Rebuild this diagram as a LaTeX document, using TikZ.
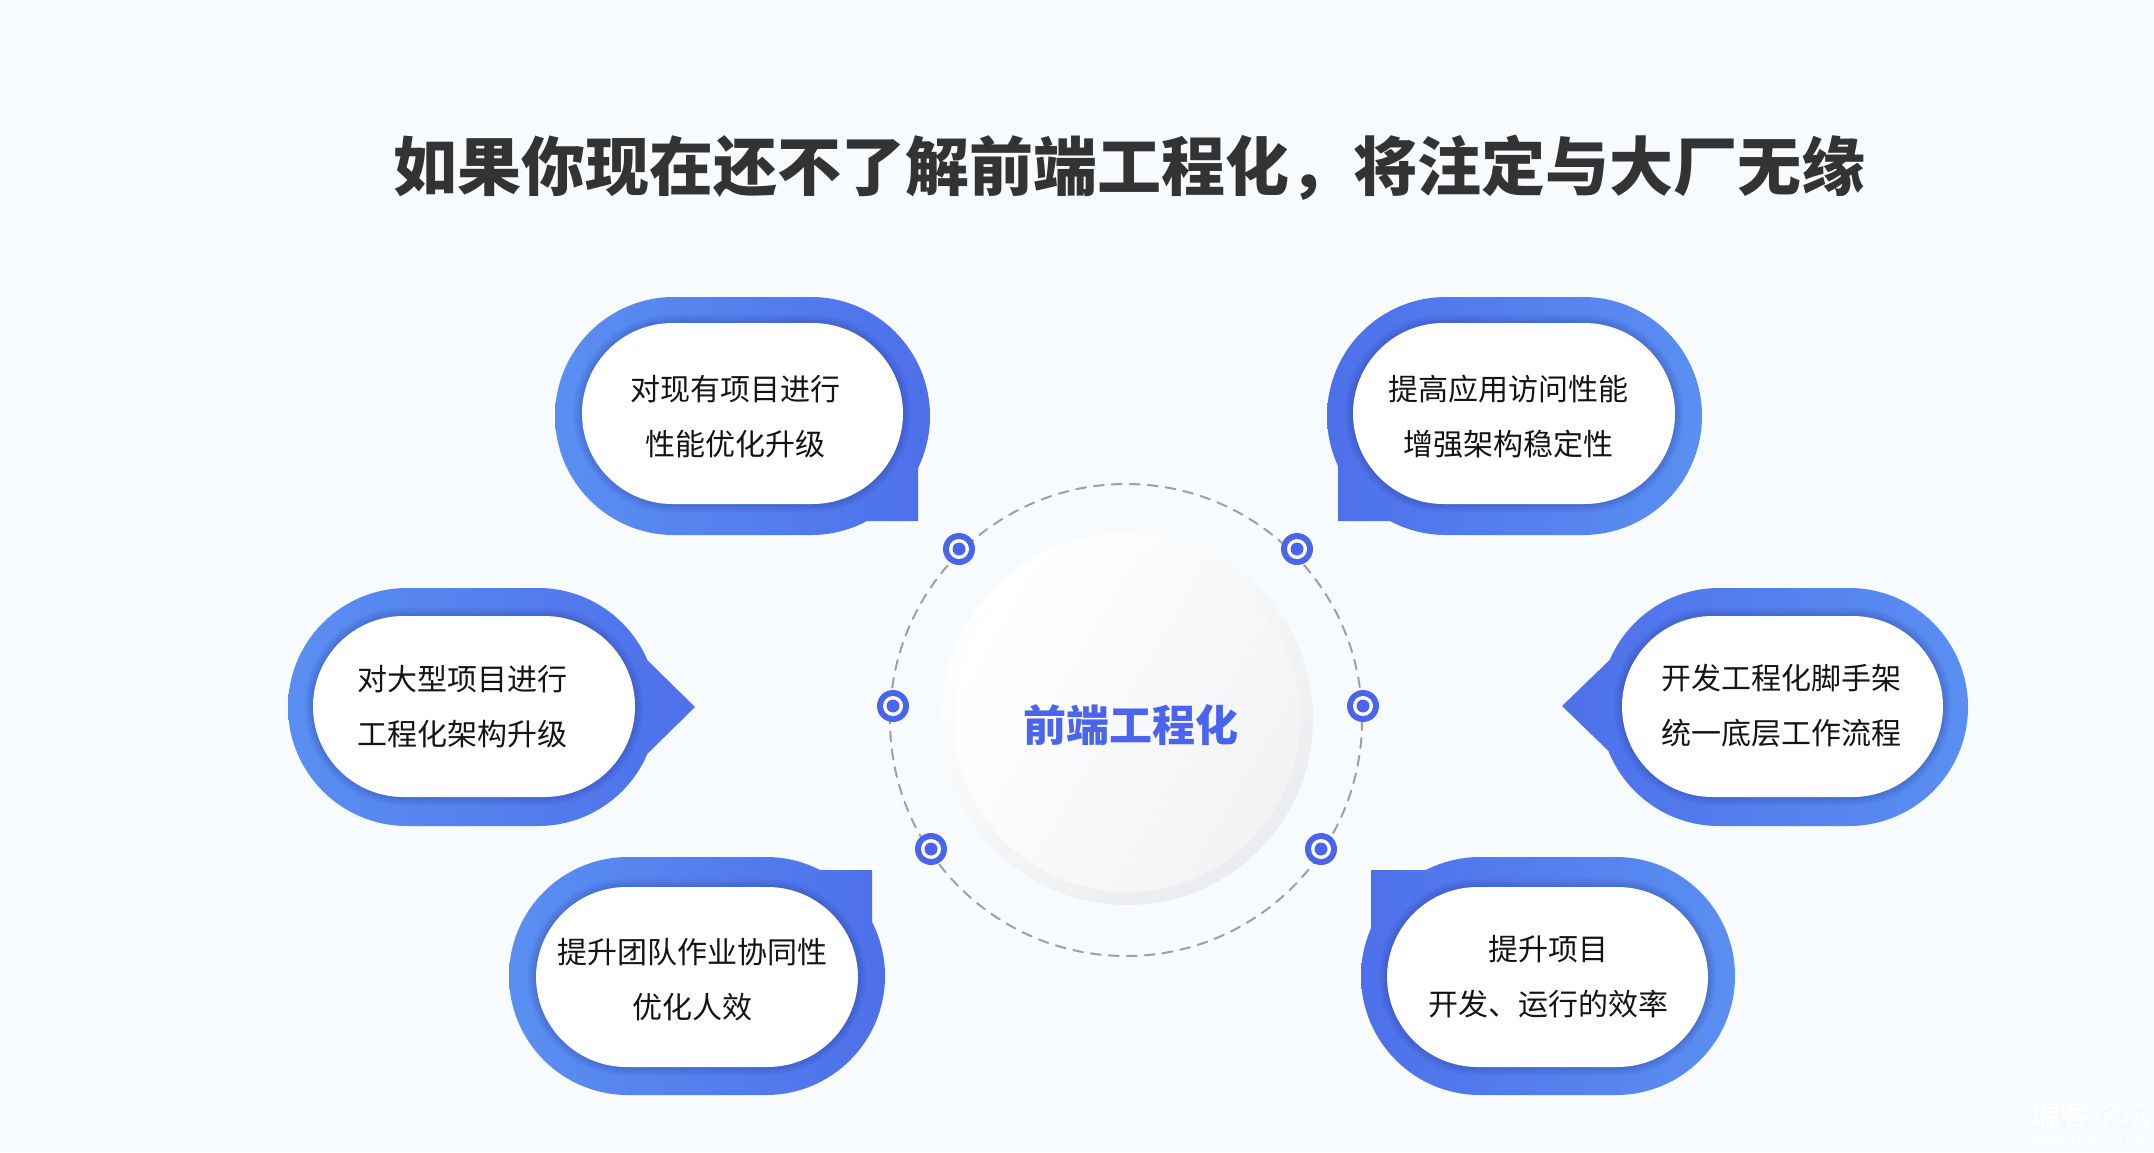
\documentclass[tikz,border=0pt]{standalone}
\usepackage{fontspec}
\setmainfont{Noto Sans CJK SC}
\usepackage{xcolor}
\usepackage{tikz}
\usetikzlibrary{positioning}

\definecolor{bgcol}{RGB}{247,251,254}
\definecolor{bluelight}{RGB}{90,143,242}
\definecolor{bluedark}{RGB}{78,112,234}
\definecolor{markblue}{RGB}{74,100,238}
\definecolor{titlegray}{RGB}{51,51,51}
\definecolor{dashgray}{RGB}{160,160,160}
\definecolor{ringgray}{RGB}{235,236,239}
\definecolor{diskgray}{RGB}{242,243,245}
\definecolor{shadowcol}{RGB}{30,45,130}

\begin{document}
\begin{tikzpicture}[x=1pt, y=-1pt, line cap=round, line join=round,
  outerL/.style={left color=bluelight, right color=bluedark},
  outerR/.style={left color=bluedark, right color=bluelight},
  stadium/.style={rounded corners=119pt},
  pill/.style={fill=white, rounded corners=90.5pt},
  pillshadow/.style={draw=shadowcol, opacity=0.07, rounded corners=90.5pt},
  bubbletext/.style={align=center, inner sep=0pt, text=black!92, font=\fontsize{30}{55}\selectfont}]

% Hintergrund
\useasboundingbox (0,0) rectangle (2154,1152);
\fill[bgcol] (0,0) rectangle (2154,1152);

% Titel
\node[text=titlegray, font=\fontsize{64}{70}\selectfont\bfseries] (titel) at (1129,168)
  {如果你现在还不了解前端工程化，将注定与大厂无缘};

% Mittelkreis
\draw[dashgray, line width=2pt, dash pattern=on 10pt off 8pt] (1126,720) circle (236);
\shade[top color=white, bottom color=ringgray, shading angle=40] (1127,719) circle (186);
\shade[top color=white, bottom color=diskgray, shading angle=60] (1127,719) circle (173);
\node[text=markblue, font=\fontsize{43}{50}\selectfont\bfseries, inner sep=0pt] (mitte) at (1131,725) {前端工程化};

% Blase oben links
\shade[outerL] (555,297) [stadium] rectangle (930,535) [sharp corners] (800,420) rectangle (918,521);
\foreach \w in {16,11,7,3}
  \draw[pillshadow, line width=\w pt] (582,323) rectangle (903,504);
\fill[pill] (582,323) rectangle (903,504);
\node[bubbletext] (perf) at (735,417) {对现有项目进行\\性能优化升级};

% Blase oben rechts
\shade[outerR] (1327,297) [stadium] rectangle (1702,535) [sharp corners] (1338,420) rectangle (1455,521);
\foreach \w in {16,11,7,3}
  \draw[pillshadow, line width=\w pt] (1353,323) rectangle (1675,504);
\fill[pill] (1353,323) rectangle (1675,504);
\node[bubbletext] (zugriff) at (1508,417) {提高应用访问性能\\增强架构稳定性};

% Blase Mitte links
\shade[outerL] (288,588) [stadium] rectangle (657,826) [sharp corners] (635,766) -- (695,707) -- (635,648) -- cycle;
\foreach \w in {16,11,7,3}
  \draw[pillshadow, line width=\w pt] (313,616) rectangle (635,797);
\fill[pill] (313,616) rectangle (635,797);
\node[bubbletext] (gross) at (462,707) {对大型项目进行\\工程化架构升级};

% Blase Mitte rechts
\shade[outerR] (1600,588) [stadium] rectangle (1968,826) [sharp corners] (1562,706) -- (1622,764) -- (1622,648) -- cycle;
\foreach \w in {16,11,7,3}
  \draw[pillshadow, line width=\w pt] (1622,616) rectangle (1943,797);
\fill[pill] (1622,616) rectangle (1943,797);
\node[bubbletext] (geruest) at (1781,706) {开发工程化脚手架\\统一底层工作流程};

% Blase unten links
\shade[outerL] (509,857) [stadium] rectangle (885,1095) [sharp corners] (760,870) rectangle (872,980);
\foreach \w in {16,11,7,3}
  \draw[pillshadow, line width=\w pt] (536,887) rectangle (858,1067);
\fill[pill] (536,887) rectangle (858,1067);
\node[bubbletext] (team) at (692,980) {提升团队作业协同性\\优化人效};

% Blase unten rechts
\shade[outerR] (1361,857) [stadium] rectangle (1735,1095) [sharp corners] (1371,870) rectangle (1486,980);
\foreach \w in {16,11,7,3}
  \draw[pillshadow, line width=\w pt] (1387,887) rectangle (1708,1067);
\fill[pill] (1387,887) rectangle (1708,1067);
\node[bubbletext] (effizienz) at (1548,977) {提升项目\\开发、运行的效率};

% Markierungen auf dem Kreis
\foreach \x/\y in {959/549, 1297/549, 893/706, 1363/706, 931/849, 1321/849} {
  \fill[markblue] (\x,\y) circle (16);
  \fill[white] (\x,\y) circle (10);
  \fill[markblue] (\x,\y) circle (6.5);
}

% Wasserzeichen
\node[text=white, font=\fontsize{30}{32}\selectfont, inner sep=0pt] (wz) at (2090,1115) {瑞客论坛};
\node[text=white, font=\fontsize{15}{16}\selectfont, inner sep=0pt, below=4pt of wz] (wzurl) {www.ruike1.com};

\end{tikzpicture}
\end{document}
